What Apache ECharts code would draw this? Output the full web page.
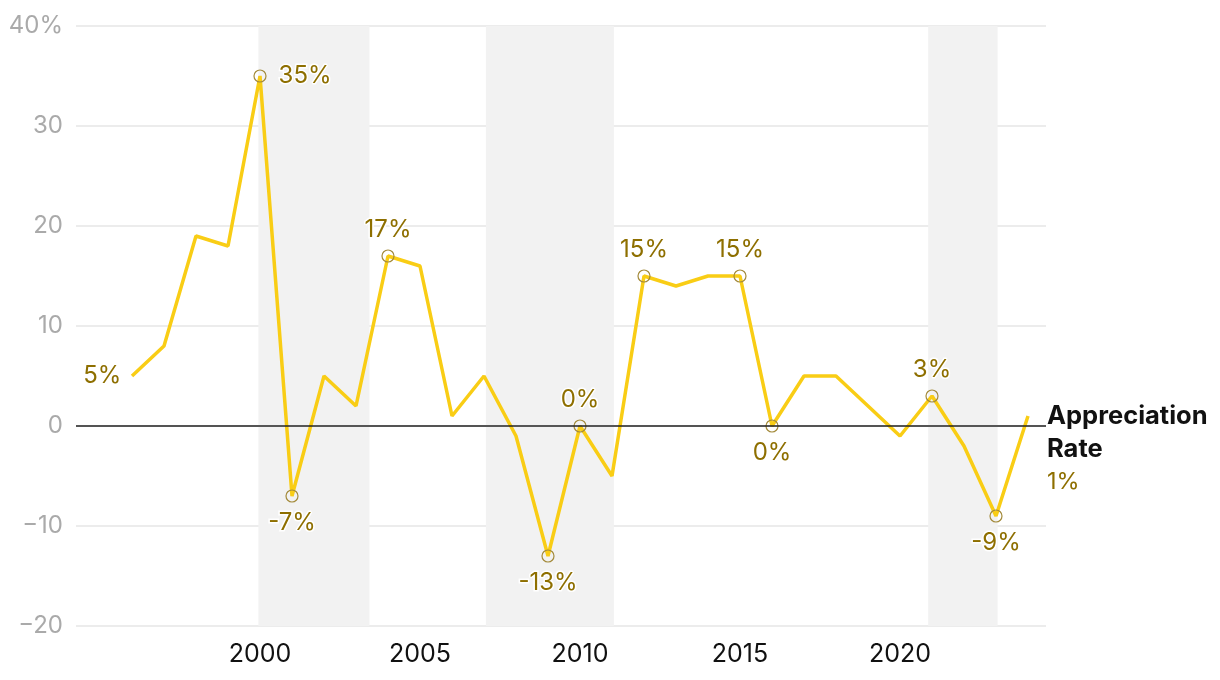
<!DOCTYPE html>
<html><head><meta charset="utf-8">
<script src="https://cdn.jsdelivr.net/npm/echarts@6/dist/echarts.min.js"></script>
<style>html,body{margin:0;padding:0;background:#fff}#c{width:1220px;height:680px}</style>
</head><body><div id="c"></div>
<script>
const years = [1996,1997,1998,1999,2000,2001,2002,2003,2004,2005,2006,2007,2008,2009,2010,2011,2012,2013,2014,2015,2016,2017,2018,2019,2020,2021,2022,2023,2024];
const rates = [5,8,19,18,35,-7,5,2,17,16,1,5,-1,-13,0,-5,15,14,15,15,0,5,5,2,-1,3,-2,-9,1];
// annotated points: year -> label position, and whether a ring marker is drawn
const annotYears = [1996,2000,2001,2004,2009,2010,2012,2015,2016,2021,2023];
const annotPos = ['left','right','bottom','top','bottom','top','top','top','bottom','top','bottom'];
const annotRing = [false,true,true,true,true,true,true,true,true,true,true];
const shadedBands = [[1999.95,2003.42],[2007.06,2011.06],[2020.88,2023.05]];
const xTicks = [2000,2005,2010,2015,2020];
const seriesName = 'Appreciation Rate';

const LINE = '#F9CD15', OLIVE = '#8E6F00', FONT = 'Inter, "Noto Sans", sans-serif';
const data = years.map((y,i)=>{
  const item = {value:[y,rates[i]]};
  const k = annotYears.indexOf(y);
  if (k >= 0) {
    item.symbol = 'circle';
    item.symbolSize = annotRing[k] ? 12 : 0.01;
    item.itemStyle = {color:'rgba(255,255,255,0)', borderColor: annotRing[k] ? '#A38A3A' : 'rgba(0,0,0,0)', borderWidth:1.2};
    item.label = {show:true, position:annotPos[k], distance:annotPos[k]==='right'?12:(annotPos[k]==='left'?10:8),
      formatter: p => p.value[1] + '%'};
  }
  return item;
});

const chart = echarts.init(document.getElementById('c'));
chart.setOption({
  animation:false,
  grid:{left:76,right:174,top:26,bottom:54},
  xAxis:{type:'value',min:1994.25,max:2024.5625,
    axisLine:{show:false},axisTick:{show:false},splitLine:{show:false},
    axisLabel:{customValues:xTicks,color:'#111',fontSize:25,fontFamily:FONT,margin:16,formatter:v=>String(v)}},
  yAxis:{type:'value',min:-20,max:40,interval:10,
    axisLine:{show:false},axisTick:{show:false},
    splitLine:{lineStyle:{color:'#e6e6e6',width:1.5}},
    axisLabel:{color:'#aaa',fontSize:24,fontFamily:FONT,margin:13,
      formatter:v=> v===40 ? '40%' : (v<0 ? '\u2212'+Math.abs(v) : String(v))}},
  series:[{
    name:seriesName,type:'line',data:data,
    symbol:'none',showAllSymbol:true,
    lineStyle:{color:LINE,width:3.5},
    itemStyle:{color:LINE},
    label:{show:false,color:OLIVE,fontSize:24,fontFamily:FONT,textBorderColor:'#fff',textBorderWidth:3},
    endLabel:{show:true,distance:19,offset:[0,33],
      formatter: p => '{a|Appreciation}\n{a|Rate}\n{b|' + p.value[1] + '%}',
      rich:{a:{fontFamily:FONT,fontWeight:'bold',fontSize:25.5,color:'#111',lineHeight:33},
            b:{fontFamily:FONT,fontSize:23.5,color:OLIVE,lineHeight:33}}},
    markArea:{silent:true,itemStyle:{color:'#f2f2f2'},
      data:shadedBands.map(b=>[{xAxis:b[0]},{xAxis:b[1]}])},
    markLine:{silent:true,symbol:'none',label:{show:false},
      lineStyle:{color:'#222',width:1.5,type:'solid'},data:[{yAxis:0}]},
    z:3
  }]
});
</script></body></html>
